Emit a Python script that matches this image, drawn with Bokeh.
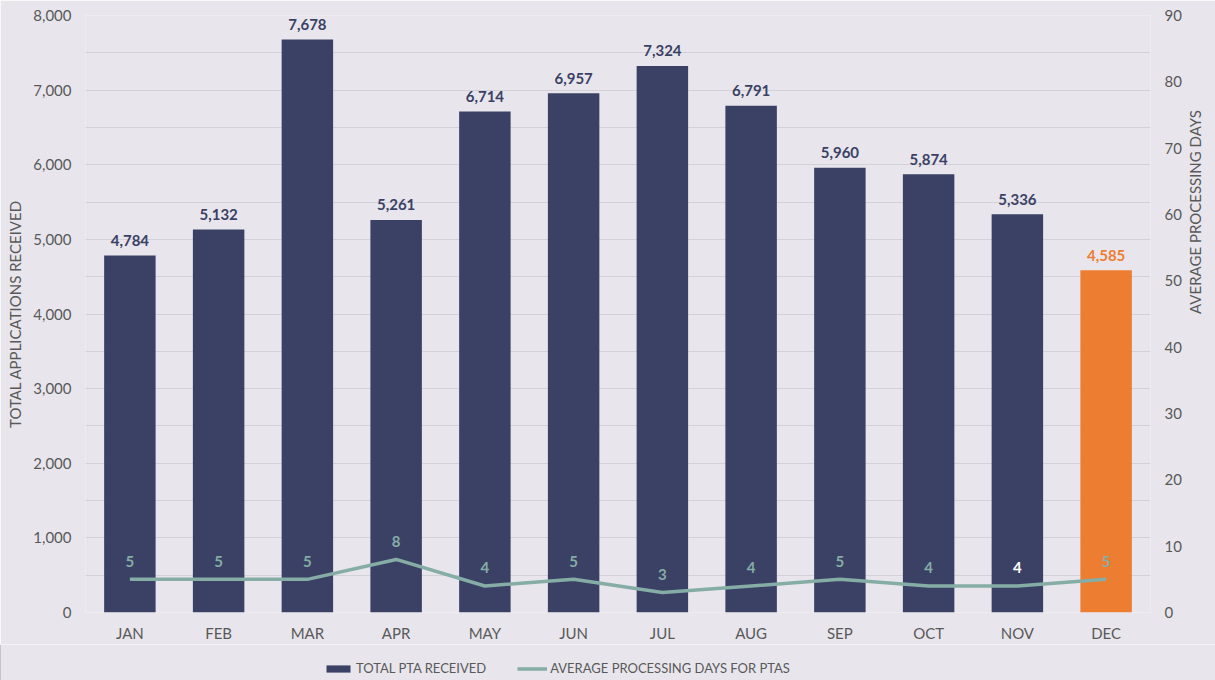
import math
from bokeh.plotting import figure
from bokeh.layouts import column
from bokeh.models import (ColumnDataSource, Range1d, LinearAxis, FixedTicker,
                          Legend, LegendItem, NumeralTickFormatter)
from bokeh.core.properties import value
from bokeh.embed import file_html
from bokeh.resources import INLINE

months = ["JAN", "FEB", "MAR", "APR", "MAY", "JUN", "JUL", "AUG", "SEP", "OCT", "NOV", "DEC"]
pta_received = [4784, 5132, 7678, 5261, 6714, 6957, 7324, 6791, 5960, 5874, 5336, 4585]
avg_days = [5, 5, 5, 8, 4, 5, 3, 4, 5, 4, 4, 5]
series_names = ["TOTAL PTA RECEIVED", "AVERAGE PROCESSING DAYS FOR PTAS"]

BG = "#E8E6EC"
NAVY = "#3B4165"
ORANGE = "#ED7D31"
TEAL = "#85ADA6"
GRID = "#D3D1D8"
TXT = "#595959"
FONT = "Lato"
FS = "15px"

W = 1215
H_MAIN = 644
H_LEG = 36

bar_colors = [NAVY] * (len(months) - 1) + [ORANGE]
bar_label_colors = [NAVY] * (len(months) - 1) + [ORANGE]
day_label_colors = [TEAL] * len(months)
day_label_colors[10] = "#FFFFFF"

src = ColumnDataSource(dict(
    month=months,
    pta=pta_received,
    days=avg_days,
    color=bar_colors,
    pta_label=[f"{v:,}" for v in pta_received],
    pta_label_color=bar_label_colors,
    days_label=[str(v) for v in avg_days],
    days_label_color=day_label_colors,
))

p = figure(x_range=months, y_range=Range1d(0, 8000), width=W, height=H_MAIN,
           output_backend="svg", toolbar_location=None,
           background_fill_color=BG, border_fill_color=BG, outline_line_color=None,
           min_border_left=85, min_border_right=64, min_border_top=15, min_border_bottom=31)
p.frame_align = False
p.extra_y_ranges = {"days": Range1d(0, 90)}

bars = p.vbar(x="month", top="pta", width=0.58, fill_color="color", line_color=None, source=src)
line = p.line(x="month", y="days", y_range_name="days", line_color=TEAL, line_width=3.5, source=src)

p.text(x="month", y="pta", text="pta_label", text_color="pta_label_color",
       text_align="center", text_baseline="middle", y_offset=-15,
       text_font=value(FONT), text_font_style="bold", text_font_size=FS, source=src)
p.text(x="month", y="days", y_range_name="days", text="days_label", text_color="days_label_color",
       text_align="center", text_baseline="middle", y_offset=-18,
       text_font=value(FONT), text_font_style="bold", text_font_size=FS, source=src)

# left axis
left_ticker = FixedTicker(ticks=list(range(0, 8001, 1000)), minor_ticks=list(range(500, 8000, 1000)))
p.yaxis.ticker = left_ticker
p.yaxis.formatter = NumeralTickFormatter(format="0,0")
p.yaxis.axis_label = "TOTAL APPLICATIONS RECEIVED"
p.ygrid.ticker = left_ticker
p.ygrid.grid_line_color = GRID
p.ygrid.minor_grid_line_color = GRID
p.xgrid.grid_line_color = None

# right axis
right_axis = LinearAxis(y_range_name="days", ticker=FixedTicker(ticks=list(range(0, 91, 10))),
                        axis_label="AVERAGE PROCESSING DAYS")
right_axis.axis_label_orientation = math.pi / 2
p.add_layout(right_axis, "right")

for ax in [p.yaxis[0], right_axis, p.xaxis[0]]:
    ax.axis_line_color = None
    ax.major_tick_line_color = None
    ax.minor_tick_line_color = None
    ax.major_tick_out = 0
    ax.major_tick_in = 0
    ax.minor_tick_out = 0
    ax.minor_tick_in = 0
    ax.major_label_text_font = FONT
    ax.major_label_text_font_size = FS
    ax.major_label_text_color = TXT
    ax.axis_label_text_font = FONT
    ax.axis_label_text_font_size = FS
    ax.axis_label_text_font_style = "normal"
    ax.axis_label_text_color = TXT
p.yaxis[0].major_label_standoff = 14
p.yaxis[0].axis_label_standoff = 6
right_axis.major_label_standoff = 14
right_axis.axis_label_standoff = 10
p.xaxis[0].major_label_standoff = 11

# legend strip below the chart
lg = figure(width=W, height=H_LEG, x_range=Range1d(0, 1), y_range=Range1d(0, 1),
            output_backend="svg", toolbar_location=None,
            background_fill_color=BG, border_fill_color=BG, outline_line_color=None,
            min_border_left=0, min_border_right=0, min_border_top=0, min_border_bottom=0)
lg.frame_align = False
lg.axis.visible = False
lg.grid.grid_line_color = None
dummy_bar = lg.vbar(x=[-5], top=[1], width=0.5, fill_color=NAVY, line_color=None)
dummy_line = lg.line(x=[-5, -4], y=[0.5, 0.5], line_color=TEAL, line_width=3.5)
legend = Legend(items=[
    LegendItem(label=series_names[0], renderers=[dummy_bar]),
    LegendItem(label=series_names[1], renderers=[dummy_line]),
], orientation="horizontal", location=(323, 4))
legend.background_fill_alpha = 0
legend.border_line_color = None
legend.label_text_font = FONT
legend.label_text_font_size = "13px"
legend.label_text_color = TXT
legend.glyph_width = 30
legend.glyph_height = 9
legend.label_standoff = 3
legend.spacing = 31
legend.padding = 2
legend.margin = 0
lg.add_layout(legend, "center")

layout = column(p, lg, spacing=0)
html = file_html(layout, INLINE)
html = html.replace("<body>", f'<body style="background:{BG}">', 1)
open("out.html", "w").write(html)
